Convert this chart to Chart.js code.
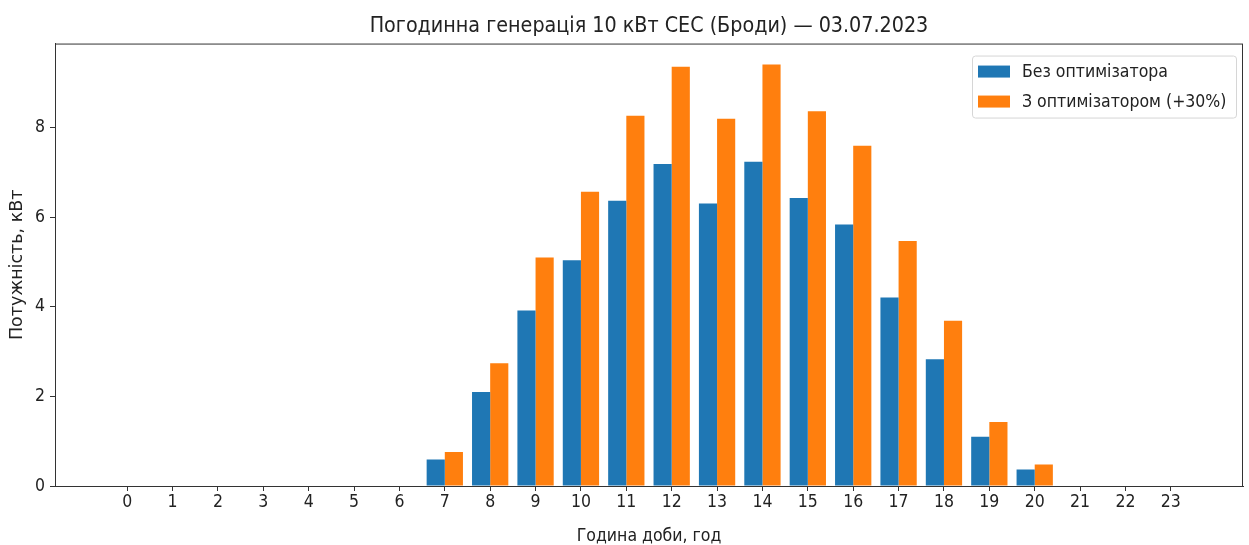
<!doctype html>
<html lang="uk">
<head>
    <meta charset="utf-8">
    <title>Погодинна генерація 10 кВт СЕС</title>
    <script src="https://cdn.jsdelivr.net/npm/chart.js"></script>
    <style>
        html, body {
            margin: 0;
            padding: 0;
            background: #ffffff;
        }

        .chart-wrap {
            position: relative;
            width: 1249px;
            height: 545px;
        }
    </style>
</head>
<body>
    <div class="chart-wrap">
        <canvas id="genChart"></canvas>
    </div>

    <script>
        // Data
        const hours = [0, 1, 2, 3, 4, 5, 6, 7, 8, 9, 10, 11, 12, 13, 14, 15, 16, 17, 18, 19, 20, 21, 22, 23];
        const withoutOptimizer = [0, 0, 0, 0, 0, 0, 0, 0.59, 2.10, 3.92, 5.04, 6.37, 7.19, 6.31, 7.24, 6.43, 5.84, 4.21, 2.83, 1.10, 0.37, 0, 0, 0];
        const withOptimizer = [0, 0, 0, 0, 0, 0, 0, 0.76, 2.74, 5.10, 6.57, 8.27, 9.36, 8.20, 9.41, 8.37, 7.60, 5.47, 3.69, 1.43, 0.48, 0, 0, 0];
        const yTicks = [0, 2, 4, 6, 8];
        const seriesLabels = ['Без оптимізатора', 'З оптимізатором (+30%)'];

        const FONT = "'DejaVu Sans Condensed', 'DejaVu Sans', sans-serif";
        const FONT_V = "'DejaVu Sans', sans-serif";
        const BLUE = '#1f77b4';
        const ORANGE = '#ff7f0e';

        // frame around plot area + legend in the top right corner
        const framePlugin = {
            id: 'frame',
            afterDraw(chart) {
                const ctx = chart.ctx;
                const a = chart.chartArea;
                ctx.save();
                ctx.strokeStyle = '#333333';
                ctx.lineWidth = 1;
                ctx.strokeRect(a.left + 0.5, a.top + 0.5, a.right - a.left - 1, a.bottom - a.top);

                // legend box
                const bx = a.right - 271, by = a.top + 12, bw = 264, bh = 62;
                ctx.fillStyle = 'rgba(255,255,255,0.85)';
                ctx.strokeStyle = '#d6d6d6';
                ctx.beginPath();
                ctx.roundRect(bx + 0.5, by + 0.5, bw, bh, 3);
                ctx.fill();
                ctx.stroke();

                const colors = [BLUE, ORANGE];
                ctx.font = '17.5px ' + FONT;
                ctx.textBaseline = 'middle';
                chart.data.datasets.forEach((ds, i) => {
                    const cy = by + 16 + i * 30;
                    ctx.fillStyle = colors[i];
                    ctx.fillRect(bx + 6, cy - 6, 32, 12);
                    ctx.fillStyle = '#222222';
                    ctx.fillText(ds.label, bx + 50, cy + 1);
                });
                ctx.restore();
            }
        };

        const ctx = document.getElementById('genChart').getContext('2d');

        const genChart = new Chart(ctx, {
            type: 'bar',
            data: {
                datasets: [{
                    label: seriesLabels[0],
                    data: hours.map((h, i) => ({ x: h, y: withoutOptimizer[i] })),
                    backgroundColor: BLUE,
                    borderWidth: 0,
                    categoryPercentage: 0.8,
                    barPercentage: 1.0
                }, {
                    label: seriesLabels[1],
                    data: hours.map((h, i) => ({ x: h, y: withOptimizer[i] })),
                    backgroundColor: ORANGE,
                    borderWidth: 0,
                    categoryPercentage: 0.8,
                    barPercentage: 1.0
                }]
            },
            options: {
                responsive: true,
                maintainAspectRatio: false,
                animation: false,
                layout: {
                    padding: { left: 0, right: 6, top: 0, bottom: 0 }
                },
                plugins: {
                    legend: { display: false },
                    tooltip: { enabled: false },
                    title: {
                        display: true,
                        fullSize: false,
                        text: 'Погодинна генерація 10 кВт СЕС (Броди) — 03.07.2023',
                        color: '#222222',
                        font: { family: FONT, size: 21.3, weight: 'normal' },
                        padding: { top: 14, bottom: 4 }
                    }
                },
                scales: {
                    x: {
                        type: 'linear',
                        min: -1.59,
                        max: 24.59,
                        offset: false,
                        afterFit(scale) { scale.height = 59; },
                        afterBuildTicks(scale) {
                            scale.ticks = hours.map(v => ({ value: v }));
                        },
                        grid: {
                            offset: false,
                            drawOnChartArea: false,
                            drawTicks: true,
                            tickLength: 5,
                            color: '#333333'
                        },
                        border: { display: true, color: '#333333' },
                        ticks: {
                            autoSkip: false,
                            maxRotation: 0,
                            color: '#222222',
                            padding: 1,
                            font: { family: FONT, size: 17.5 }
                        },
                        title: {
                            display: true,
                            text: 'Година доби, год',
                            color: '#222222',
                            font: { family: FONT, size: 17.5 },
                            padding: { top: 0, bottom: -2 }
                        }
                    },
                    y: {
                        min: 0,
                        max: 9.88,
                        afterFit(scale) { scale.width = 55; },
                        afterBuildTicks(scale) {
                            scale.ticks = yTicks.map(v => ({ value: v }));
                        },
                        grid: {
                            drawOnChartArea: false,
                            drawTicks: true,
                            tickLength: 5,
                            color: '#333333'
                        },
                        border: { display: true, color: '#333333' },
                        ticks: {
                            color: '#222222',
                            padding: 5,
                            font: { family: FONT, size: 17.5 }
                        },
                        title: {
                            display: true,
                            text: 'Потужність, кВт',
                            color: '#222222',
                            font: { family: FONT_V, size: 17.5 },
                            padding: { top: 7, bottom: 0 }
                        }
                    }
                }
            },
            plugins: [framePlugin]
        });
    </script>
</body>
</html>
